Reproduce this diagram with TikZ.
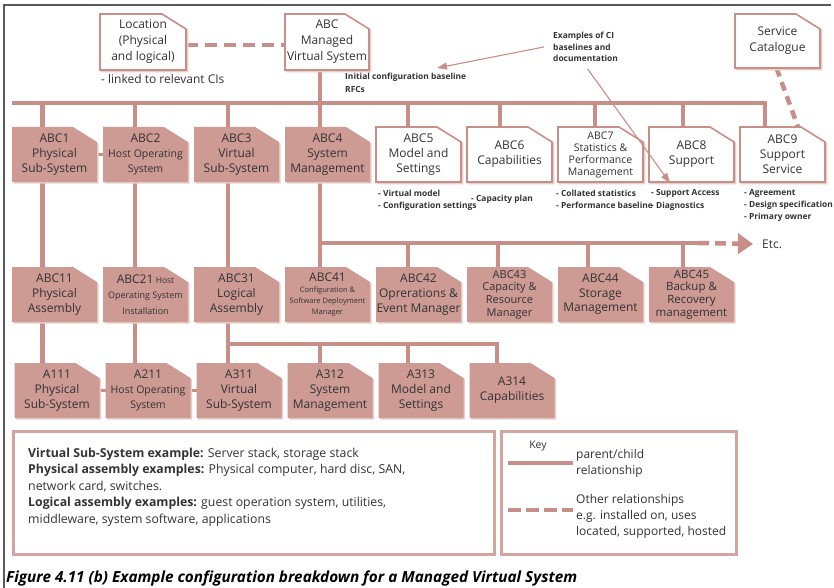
\documentclass[tikz,border=0pt]{standalone}
\usepackage{fontspec}
\setmainfont{Open Sans}
\usetikzlibrary{arrows.meta}

\definecolor{ciline}{HTML}{C88E88}
\definecolor{cifill}{HTML}{CD9A94}
\definecolor{cishade}{HTML}{E8CFCB}
\definecolor{citext}{HTML}{333333}
\definecolor{frameline}{HTML}{5A5A5A}
\definecolor{keyline}{HTML}{D3A5A0}

\pgfdeclarelayer{background}
\pgfsetlayers{background,main}

\tikzset{
  cibox/.style={minimum width=85pt, minimum height=55pt, inner sep=0pt, outer sep=0pt,
    align=center, text=citext, font=\fontsize{12}{15}\selectfont},
  cutpath/.style={insert path={(#1.south west) -- (#1.north west)
    -- ([xshift=-24pt]#1.north east) -- ([yshift=-15pt]#1.north east)
    -- (#1.south east) -- cycle}},
  cutshade/.style={insert path={([shift={(1.5pt,-1.5pt)}]#1.south west)
    -- ([shift={(1.5pt,-1.5pt)}]#1.north west)
    -- ([shift={(-22.5pt,-1.5pt)}]#1.north east)
    -- ([shift={(1.5pt,-16.5pt)}]#1.north east)
    -- ([shift={(1.5pt,-1.5pt)}]#1.south east) -- cycle}},
  parent/.style={draw=ciline, line width=4.5pt, line cap=rect},
  other/.style={draw=ciline, line width=4.5pt, dash pattern=on 12pt off 7pt},
  note/.style={anchor=north west, inner sep=0pt, align=left, text=citext,
    font=\bfseries\fontsize{8.4}{12.5}\selectfont},
  pointer/.style={draw=ciline, line width=1.1pt, -{Triangle[length=10pt,width=7pt]}},
  keyframe/.style={draw=keyline, line width=3pt, anchor=north west, inner sep=0pt},
  keytext/.style={anchor=north west, inner sep=0pt, align=left, text=citext,
    font=\fontsize{12}{16}\selectfont},
}

\begin{document}
\begin{tikzpicture}[x=1pt, y=-1pt]
  \useasboundingbox (0,0) rectangle (834,588);

  % frame
  \draw[frameline, line width=1.3pt] (4,588) -- (4,5) -- (831,5);

  \begin{scope}[every node/.style={cibox}]
    % top level
    \node[minimum width=86pt, minimum height=56pt, font=\fontsize{12}{16}\selectfont] (loc) at (143,42) {Location\\(Physical\\and logical)};
    \node[minimum width=84pt, minimum height=56pt, font=\fontsize{12}{16}\selectfont] (abc) at (327,42) {ABC\\Managed\\Virtual System};
    \node[minimum height=54pt, font=\fontsize{12}{16}\selectfont] (svccat) at (777.5,41) {Service\\Catalogue};

    % first level
    \node (abc1) at (54.5,154.5)  {ABC1\\Physical\\Sub-System};
    \node[font=\fontsize{10.5}{15}\selectfont] (abc2) at (145.5,154.5) {{\fontsize{12}{15}\selectfont ABC2}\\Host Operating\\System};
    \node (abc3) at (236.5,154.5) {ABC3\\Virtual\\Sub-System};
    \node (abc4) at (327.5,154.5) {ABC4\\System\\Management};
    \node (abc5) at (418.5,154.5) {ABC5\\Model and\\Settings};
    \node (abc6) at (509.5,154.5) {ABC6\\Capabilities};
    \node[font=\fontsize{10.5}{12}\selectfont] (abc7) at (600.5,154.5) {ABC7\\Statistics \&\\Performance\\Management};
    \node (abc8) at (691.5,154.5) {ABC8\\Support};
    \node (abc9) at (782.5,154.5) {ABC9\\Support\\Service};

    % second level
    \node (abc11) at (54.5,294.5)  {ABC11\\Physical\\Assembly};
    \node[font=\fontsize{9}{15.5}\selectfont] (abc21) at (145.5,294.5) {{\fontsize{12}{15}\selectfont ABC21} {\fontsize{8.5}{15}\selectfont Host}\\Operating System\\Installation};
    \node (abc31) at (236.5,294.5) {ABC31\\Logical\\Assembly};
    \node[font=\fontsize{7.5}{11}\selectfont] (abc41) at (327.5,294.5) {{\fontsize{12}{15}\selectfont ABC41}\\Configuration \&\\Software Deployment\\Manager};
    \node (abc42) at (418.5,294.5) {ABC42\\Oprerations \&\\Event Manager};
    \node[font=\fontsize{11}{12.7}\selectfont] (abc43) at (509.5,294.5) {ABC43\\Capacity \&\\Resource\\Manager};
    \node[font=\fontsize{12}{14.5}\selectfont] (abc44) at (600.5,294.5) {ABC44\\Storage\\Management};
    \node[font=\fontsize{11.5}{12.7}\selectfont] (abc45) at (691.5,294.5) {ABC45\\Backup \&\\Recovery\\management};

    % third level
    \node (a111) at (57,390.5)  {A111\\Physical\\Sub-System};
    \node[font=\fontsize{10.5}{15}\selectfont] (a211) at (148,390.5) {{\fontsize{12}{15}\selectfont A211}\\Host Operating\\System};
    \node (a311) at (239,390.5) {A311\\Virtual\\Sub-System};
    \node (a312) at (330,390.5) {A312\\System\\Management};
    \node (a313) at (421,390.5) {A313\\Model and\\Settings};
    \node (a314) at (512,390.5) {A314\\Capabilities};
  \end{scope}

  % notes
  \node[anchor=west, inner sep=0pt, text=citext, font=\fontsize{12}{15}\selectfont] (locnote) at (101,79) {- linked to relevant CIs};
  \node[note] (initnote) at (345,73) {Initial configuration baseline\\RFCs};
  \node[note, font=\bfseries\fontsize{8.4}{11.5}\selectfont] (ann) at (553,32) {Examples of CI\\baselines and\\documentation};
  \node[note] (abc5note) at (378,189.5) {- Virtual model\\- Configuration settings};
  \node[note] (abc6note) at (471,194.5) {- Capacity plan};
  \node[note] (abc7note) at (556,189.5) {- Collated statistics\\- Performance baseline};
  \node[note] (abc8note) at (651,189.5) {- Support Access\\- Diagnostics};
  \node[note, font=\bfseries\fontsize{8.4}{12}\selectfont] (abc9note) at (744,189.5) {- Agreement\\- Design specification\\- Primary owner};
  \node[anchor=west, inner sep=0pt, text=citext, font=\fontsize{12}{15}\selectfont] (etc) at (762,244) {Etc.};

  \coordinate (bus1) at (14,103);
  \coordinate (bus2) at (320,243);
  \coordinate (bus3) at (228,344);
  \coordinate (etcgap) at (698,243);
  \coordinate (inittip) at (437,68);
  \coordinate (supporttip) at (670,183);

  \begin{pgfonlayer}{background}
    \fill[white] (0,0) rectangle (834,588);

    % parent/child lines
    \draw[parent] ([xshift=-7pt]abc.south) -- ([xshift=-7pt]abc.south |- bus1);
    \draw[parent] (bus1) -- ([xshift=-17.5pt]abc9.north |- bus1);
    \draw[parent] ([xshift=-12pt]abc1.north |- bus1) -- ([xshift=-12pt]abc1.north);
    \draw[parent] ([xshift=-10.5pt]abc2.north |- bus1) -- ([xshift=-10.5pt]abc2.north);
    \draw[parent] ([xshift=-8.5pt]abc3.north |- bus1) -- ([xshift=-8.5pt]abc3.north);
    \draw[parent] ([xshift=-7.5pt]abc4.north |- bus1) -- ([xshift=-7.5pt]abc4.north);
    \draw[parent] ([xshift=-10.5pt]abc5.north |- bus1) -- ([xshift=-10.5pt]abc5.north);
    \draw[parent] ([xshift=-9.5pt]abc6.north |- bus1) -- ([xshift=-9.5pt]abc6.north);
    \draw[parent] ([xshift=-5.5pt]abc7.north |- bus1) -- ([xshift=-5.5pt]abc7.north);
    \draw[parent] ([xshift=-8.5pt]abc8.north |- bus1) -- ([xshift=-8.5pt]abc8.north);
    \draw[parent] ([xshift=-17.5pt]abc9.north |- bus1) -- ([xshift=-17.5pt]abc9.north);

    \draw[parent] ([xshift=-12pt]abc1.south) -- ([xshift=-12pt]abc1.south |- abc11.north);
    \draw[parent] ([xshift=-10.5pt]abc2.south) -- ([xshift=-10.5pt]abc2.south |- abc21.north);
    \draw[parent] ([xshift=-8.5pt]abc3.south) -- ([xshift=-8.5pt]abc3.south |- abc31.north);
    \draw[parent] ([xshift=-7.5pt]abc4.south) -- ([xshift=-7.5pt]abc4.south |- abc41.north);
    \draw[parent] (bus2) -- (etcgap);
    \draw[parent] ([xshift=-10.5pt]abc42.north |- bus2) -- ([xshift=-10.5pt]abc42.north);
    \draw[parent] ([xshift=-11.5pt]abc43.north |- bus2) -- ([xshift=-11.5pt]abc43.north);
    \draw[parent] ([xshift=-12.5pt]abc44.north |- bus2) -- ([xshift=-12.5pt]abc44.north);
    \draw[parent] ([xshift=-8.5pt]abc45.north |- bus2) -- ([xshift=-8.5pt]abc45.north);

    \draw[parent] ([xshift=-12pt]abc11.south) -- ([xshift=-12pt]abc11.south |- a111.north);
    \draw[parent] ([xshift=-10.5pt]abc21.south) -- ([xshift=-10.5pt]abc21.south |- a211.north);
    \draw[parent] ([xshift=-8.5pt]abc31.south) -- ([xshift=-8.5pt]abc31.south |- a311.north);
    \draw[parent] (bus3) -- ([xshift=-15pt]a314.north |- bus3);
    \draw[parent] ([xshift=-10pt]a312.north |- bus3) -- ([xshift=-10pt]a312.north);
    \draw[parent] ([xshift=-13pt]a313.north |- bus3) -- ([xshift=-13pt]a313.north);
    \draw[parent] ([xshift=-15pt]a314.north |- bus3) -- ([xshift=-15pt]a314.north);

    \draw[parent, line width=3.5pt] (abc1.east) -- (abc2.west);
    \draw[parent, line width=3.5pt] (a111.east) -- (a211.west);
    \draw[parent, line width=3.5pt] (a211.east) -- (a311.west);

    % other relationships
    \draw[other] ([yshift=-3pt]loc.east) -- ([yshift=-3pt]abc.west);
    \draw[other, dash pattern=on 9pt off 6pt] ([xshift=-1pt]svccat.south) -- ([xshift=15.5pt]abc9.north);
    \draw[other, dash pattern=on 11pt off 6pt, -{Triangle[length=15pt,width=20pt]}] (etcgap) -- ([xshift=-9pt]etc.west);

    % boxes
    \foreach \n in {abc1,abc2,abc3,abc4,abc11,abc21,abc31,abc41,abc42,abc43,abc44,abc45,a111,a211,a311,a312,a313,a314}
      \fill[cishade, cutshade=\n];
    \foreach \n in {abc1,abc2,abc3,abc4,abc11,abc21,abc31,abc41,abc42,abc43,abc44,abc45,a111,a211,a311,a312,a313,a314}
      \fill[cifill, cutpath=\n];
    \foreach \n in {loc,abc,svccat,abc5,abc6,abc7,abc8,abc9}
      \draw[cishade, line width=1.6pt, cutshade=\n];
    \foreach \n in {loc,abc,svccat,abc5,abc6,abc7,abc8,abc9}
      \draw[ciline, line width=1.6pt, fill=white, cutpath=\n];
  \end{pgfonlayer}

  % pointers to baselines
  \draw[pointer] ([xshift=-9pt]ann.west) -- (inittip);
  \draw[pointer] ([xshift=2pt,yshift=-7pt]ann.south) -- (supporttip);

  % examples box
  \node[keyframe, minimum width=481pt, minimum height=123pt] (exbox) at (12,430) {};
  \node[keytext, font=\fontsize{12.3}{16.5}\selectfont] (extext) at (28,447.5) {\textbf{Virtual Sub-System example:} Server stack, storage stack\\
    \textbf{Physical assembly examples:} Physical computer, hard disc, SAN,\\
    network card, switches.\\
    \textbf{Logical assembly examples:} guest operation system, utilities,\\
    middleware, system software, applications};

  % key
  \node[keyframe, minimum width=235pt, minimum height=123pt] (keybox) at (500,430) {};
  \node[text=citext, inner sep=0pt, font=\fontsize{10.5}{12}\selectfont] (keylabel) at (538,446) {Key};
  \coordinate (solidL) at (508,463);
  \coordinate (solidR) at (573,463);
  \coordinate (dashL) at (508,510);
  \coordinate (dashR) at (573,510);
  \draw[parent, line cap=butt] (solidL) -- (solidR);
  \draw[other, dash pattern=on 13pt off 5pt] (dashL) -- (dashR);
  \node[keytext, font=\fontsize{12}{15.5}\selectfont] (keyparent) at (576,449.5) {parent/child\\relationship};
  \node[keytext] (keyother) at (576,494.5) {Other relationships\\e.g. installed on, uses\\located, supported, hosted};

  % caption
  \node[anchor=west, inner sep=0pt, font=\bfseries\itshape\fontsize{15.3}{18}\selectfont] (caption) at (6,578) {Figure 4.11 (b) Example configuration breakdown for a Managed Virtual System};
\end{tikzpicture}
\end{document}
